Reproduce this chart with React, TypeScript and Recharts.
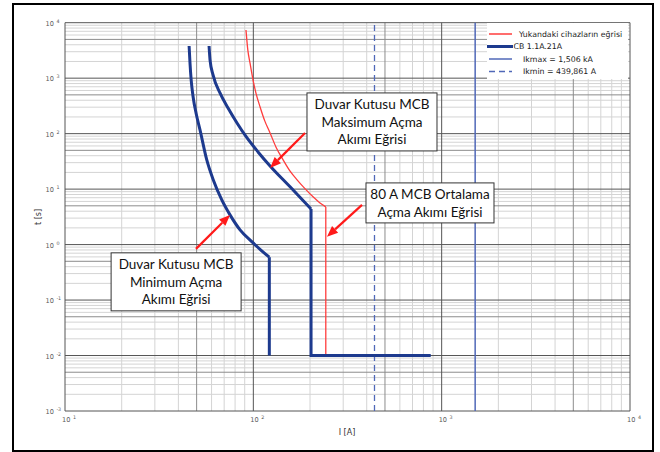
import React from 'react';
import { ComposedChart, Line, XAxis, YAxis, ReferenceLine, ReferenceDot } from 'recharts';

// ---- data ----
// smooth (inverse-time) parts of each curve
const upstreamCurve = [
  { I: 91.4, t: 7380 },
  { I: 93.5, t: 3200 },
  { I: 96, t: 1879 },
  { I: 99.6, t: 929 },
  { I: 103.5, t: 520 },
  { I: 108.6, t: 303 },
  { I: 115, t: 170 },
  { I: 122.7, t: 103 },
  { I: 132, t: 57 },
  { I: 143.9, t: 33.7 },
  { I: 156, t: 21.5 },
  { I: 170.7, t: 14.7 },
  { I: 188, t: 10.2 },
  { I: 207.5, t: 7.26 },
  { I: 225, t: 5.7 },
  { I: 242.5, t: 4.78 },
];
// instantaneous (vertical) part
const upstreamTail = [
  { I: 242.5, t: 4.78 },
  { I: 242.5, t: 0.01 },
];

const cbMinCurve = [
  { I: 45.6, t: 3805 },
  { I: 46.1, t: 1879 },
  { I: 46.8, t: 900 },
  { I: 47.9, t: 458 },
  { I: 49.7, t: 230 },
  { I: 52.1, t: 117 },
  { I: 56.6, t: 33.6 },
  { I: 61.3, t: 14.66 },
  { I: 68.0, t: 6.39 },
  { I: 75.2, t: 3.43 },
  { I: 85.0, t: 1.84 },
  { I: 98.1, t: 1.13 },
  { I: 110.8, t: 0.77 },
  { I: 121.6, t: 0.593 },
];
const cbMinTail = [
  { I: 121.6, t: 0.593 },
  { I: 121.6, t: 0.01 },
];

const cbMaxCurve = [
  { I: 58.2, t: 3805 },
  { I: 58.9, t: 2128 },
  { I: 61.1, t: 1143 },
  { I: 66.5, t: 541 },
  { I: 73.4, t: 290 },
  { I: 81.9, t: 156 },
  { I: 92.6, t: 83.7 },
  { I: 105.9, t: 46.8 },
  { I: 122.7, t: 26.2 },
  { I: 156.7, t: 11.0 },
  { I: 202.5, t: 4.39 },
];
const cbMaxTail = [
  { I: 202.5, t: 4.39 },
  { I: 202.5, t: 0.01 },
  { I: 875, t: 0.01 },
];

const ikMax = 1506;
const ikMin = 439.861;

const xTicks = [10, 100, 1000, 10000];
const xTickExp = ['1', '2', '3', '4'];
const yTicks = [0.001, 0.01, 0.1, 1, 10, 100, 1000, 10000];
const yTickExp = ['-3', '-2', '-1', '0', '1', '2', '3', '4'];

const legendNames = [
  'Yukandaki cihazların eğrisi',
  'CB 1.1A.21A',
  'Ikmax = 1,506 kA',
  'Ikmin = 439,861 A',
];

const noteTexts = [
  ['Duvar Kutusu MCB', 'Maksimum Açma', 'Akımı Eğrisi'],
  ['80 A MCB Ortalama', 'Açma Akımı Eğrisi'],
  ['Duvar Kutusu MCB', 'Minimum Açma', 'Akımı Eğrisi'],
];
// box anchor (I [A], t [s])
const noteAnchors = [
  { I: 426.6, t: 162.6 },
  { I: 867, t: 5.64 },
  { I: 38.9, t: 0.213 },
];
// arrow from -> to (I [A], t [s])
const arrowFrom = [
  { I: 188.2, t: 102.9 },
  { I: 377.6, t: 5.19 },
  { I: 49.6, t: 0.837 },
];
const arrowTo = [
  { I: 122.7, t: 24.1 },
  { I: 246, t: 1.38 },
  { I: 75.2, t: 3.43 },
];

// ---- grid values ----
function gridValues(minExp: number, maxExp: number) {
  const major: number[] = [];
  const five: number[] = [];
  const minor: number[] = [];
  for (let e = minExp; e <= maxExp; e++) {
    const base = Math.pow(10, e);
    major.push(base);
    if (e < maxExp) {
      for (let k = 2; k <= 9; k++) {
        const v = k * base;
        if (k === 5) five.push(v);
        else minor.push(v);
      }
    }
  }
  return { major, five, minor };
}
const xGrid = gridValues(1, 4);
const yGrid = gridValues(-3, 4);

const RED = '#ff3d3d';
const NAVY = '#1d3a8e';
const LBLUE = '#5068b8';
const ARROW = '#ff1a1a';

const boxSizes = [
  { w: 130, h: 58 },
  { w: 128, h: 40 },
  { w: 130, h: 58 },
];

const XTick = (p: any) => {
  const i = xTicks.indexOf(p.payload.value);
  return (
    <text x={p.x - 3} y={p.y + 11} fontSize={6.6} fill="#5a5a5a" fontFamily="DejaVu Sans">
      10
      <tspan dx={2.5} dy={-2.8} fontSize={4.8}>{xTickExp[i]}</tspan>
    </text>
  );
};

const YTick = (p: any) => {
  const i = yTicks.indexOf(p.payload.value);
  return (
    <text x={p.x - 19.5} y={p.y + 3} fontSize={6.6} fill="#5a5a5a" fontFamily="DejaVu Sans">
      10
      <tspan dx={2.5} dy={-2.8} fontSize={4.8}>{yTickExp[i]}</tspan>
    </text>
  );
};

const Arrow = (p: any) => {
  const { x1, y1, x2, y2 } = p;
  const dx = x2 - x1;
  const dy = y2 - y1;
  const len = Math.sqrt(dx * dx + dy * dy);
  const ux = dx / len;
  const uy = dy / len;
  const hl = 11;
  const hw = 4.5;
  const bx = x2 - ux * hl;
  const by = y2 - uy * hl;
  const pts = `${x2},${y2} ${bx - uy * hw},${by + ux * hw} ${bx + uy * hw},${by - ux * hw}`;
  return (
    <g>
      <line x1={x1} y1={y1} x2={bx} y2={by} stroke={ARROW} strokeWidth={2.2} />
      <polygon points={pts} fill={ARROW} />
    </g>
  );
};

const makeNote = (idx: number) => (p: any) => {
  const { cx, cy } = p;
  const { w, h } = boxSizes[idx];
  const lines = noteTexts[idx];
  const n = lines.length;
  return (
    <g>
      <rect x={cx - w / 2} y={cy - h / 2} width={w} height={h} fill="#fff" stroke="#333" strokeWidth={1} />
      {lines.map((l, i) => (
        <text
          key={i}
          x={cx}
          y={cy + (i - (n - 1) / 2) * 17.5}
          textAnchor="middle"
          dominantBaseline="central"
          fontFamily="Lato"
          fontSize={13.5}
          fill="#111"
        >
          {l}
        </text>
      ))}
    </g>
  );
};

const Legend = () => {
  const rows = [
    { y: 11, x1: 2, x2: 25, tx: 32, color: RED, w: 1.5, dash: undefined },
    { y: 23.5, x1: 0, x2: 26, tx: 26.5, color: NAVY, w: 3, dash: undefined },
    { y: 36, x1: 2, x2: 25, tx: 36, color: LBLUE, w: 1.5, dash: undefined },
    { y: 48.5, x1: 2, x2: 25, tx: 36, color: LBLUE, w: 1.5, dash: '6 4' },
  ];
  return (
    <svg
      width={141}
      height={56}
      style={{ position: 'absolute', left: 487, top: 23, background: '#fff' }}
    >
      {rows.map((r, i) => (
        <g key={i}>
          <line x1={r.x1} y1={r.y} x2={r.x2} y2={r.y} stroke={r.color} strokeWidth={r.w} strokeDasharray={r.dash} />
          <text x={r.tx} y={r.y} dominantBaseline="central" fontFamily="DejaVu Sans" fontSize={7.8} fill="#222">
            {legendNames[i]}
          </text>
        </g>
      ))}
    </svg>
  );
};

export default function App() {
  return (
    <div style={{ position: 'relative', width: 660, height: 452, background: '#fff' }}>
      <style>{'body{margin:0;}'}</style>
      <ComposedChart
        width={660}
        height={452}
        margin={{ top: 22.7, right: 30, bottom: 11, left: 15 }}
      >
        <XAxis
          dataKey="I"
          type="number"
          scale="log"
          domain={[10, 10000]}
          ticks={xTicks}
          interval={0}
          allowDataOverflow
          axisLine={false}
          tickLine={false}
          tickSize={0}
          tickMargin={0}
          height={30}
          tick={<XTick />}
        />
        <YAxis
          dataKey="t"
          type="number"
          scale="log"
          domain={[0.001, 10000]}
          ticks={yTicks}
          interval={0}
          allowDataOverflow
          axisLine={false}
          tickLine={false}
          tickSize={0}
          tickMargin={0}
          width={50}
          tick={<YTick />}
        />
        {xGrid.minor.map((v) => (
          <ReferenceLine key={'xm' + v} x={v} stroke="#d4d4d4" strokeWidth={1} />
        ))}
        {yGrid.minor.map((v) => (
          <ReferenceLine key={'ym' + v} y={v} stroke="#d4d4d4" strokeWidth={1} />
        ))}
        {xGrid.five.map((v) => (
          <ReferenceLine key={'xf' + v} x={v} stroke="#8c8c8c" strokeWidth={1} />
        ))}
        {yGrid.five.map((v) => (
          <ReferenceLine key={'yf' + v} y={v} stroke="#8c8c8c" strokeWidth={1} />
        ))}
        {xGrid.major.map((v) => (
          <ReferenceLine key={'xM' + v} x={v} stroke="#555" strokeWidth={1} />
        ))}
        {yGrid.major.map((v) => (
          <ReferenceLine key={'yM' + v} y={v} stroke="#555" strokeWidth={1} />
        ))}
        <ReferenceLine x={ikMin} stroke={LBLUE} strokeWidth={1.3} strokeDasharray="6 4" />
        <ReferenceLine x={ikMax} stroke={LBLUE} strokeWidth={1.5} />
        <Line data={upstreamCurve} dataKey="t" type="monotone" stroke={RED} strokeWidth={1.3} dot={false} isAnimationActive={false} />
        <Line data={upstreamTail} dataKey="t" type="linear" stroke={RED} strokeWidth={1.3} dot={false} isAnimationActive={false} />
        <Line data={cbMinCurve} dataKey="t" type="monotone" stroke={NAVY} strokeWidth={3} dot={false} isAnimationActive={false} />
        <Line data={cbMinTail} dataKey="t" type="linear" stroke={NAVY} strokeWidth={3} dot={false} isAnimationActive={false} />
        <Line data={cbMaxCurve} dataKey="t" type="monotone" stroke={NAVY} strokeWidth={3} dot={false} isAnimationActive={false} />
        <Line data={cbMaxTail} dataKey="t" type="linear" stroke={NAVY} strokeWidth={3} dot={false} isAnimationActive={false} />
        {noteAnchors.map((a, i) => (
          <ReferenceDot key={'n' + i} x={a.I} y={a.t} r={1} shape={makeNote(i)} />
        ))}
        {arrowFrom.map((a, i) => (
          <ReferenceLine
            key={'a' + i}
            segment={[
              { x: a.I, y: a.t },
              { x: arrowTo[i].I, y: arrowTo[i].t },
            ]}
            shape={Arrow}
          />
        ))}
        <text x={38} y={217} textAnchor="middle" dominantBaseline="central" fontFamily="DejaVu Sans" fontSize={8} fill="#333" transform="rotate(-90 38 217)">
          t [s]
        </text>
        <text x={347} y={432} textAnchor="middle" dominantBaseline="central" fontFamily="DejaVu Sans" fontSize={8} fill="#333">
          I [A]
        </text>
      </ComposedChart>
      <Legend />
      <div
        style={{
          position: 'absolute',
          left: 12,
          top: 3,
          width: 642,
          height: 449,
          border: '2.5px solid #000',
          boxSizing: 'border-box',
          pointerEvents: 'none',
        }}
      />
    </div>
  );
}
